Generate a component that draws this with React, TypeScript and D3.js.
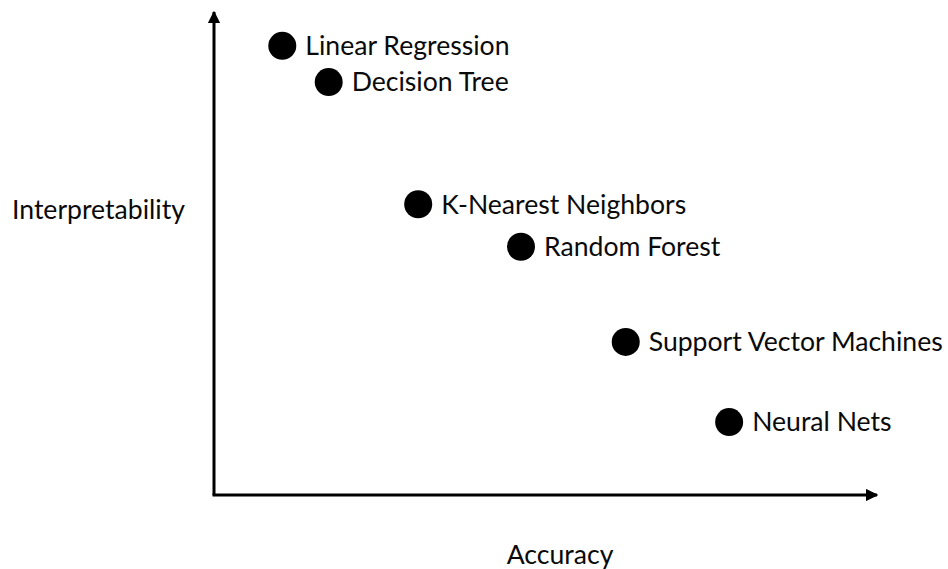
import React from "react";
import * as d3 from "d3";

const models = ["Linear Regression", "Decision Tree", "K-Nearest Neighbors", "Random Forest", "Support Vector Machines", "Neural Nets"];
const accuracy = [1.03, 1.73, 3.08, 4.63, 6.21, 7.77];
const interpretability = [9.3, 8.55, 6.02, 5.14, 3.17, 1.51];
const xAxisTitle = "Accuracy";
const yAxisTitle = "Interpretability";

const W = 948;
const H = 569;
const FONT = "Lato, 'Open Sans', sans-serif";
const FS = 26.6;

export default function App() {
  const x = d3.scaleLinear().domain([0, 10]).range([214, 877]);
  const y = d3.scaleLinear().domain([0, 10]).range([495, 12]);
  const x0 = x(0);
  const y0 = y(0);
  const xEnd = x(10);
  const yEnd = y(10);
  return (
    <svg width={W} height={H} style={{ position: "absolute", left: 0, top: 0, background: "#fff" }}>
      <defs>
        <marker id="arr" viewBox="0 0 10 10" refX="9" refY="5" markerWidth="4.2" markerHeight="4.2" orient="auto" markerUnits="strokeWidth">
          <path d="M0,0 L10,5 L0,10 Z" fill="#000" />
        </marker>
      </defs>
      <line x1={x0} y1={y0} x2={x0} y2={yEnd} stroke="#000" strokeWidth={3} markerEnd="url(#arr)" />
      <line x1={x0 - 1.5} y1={y0} x2={xEnd} y2={y0} stroke="#000" strokeWidth={3} markerEnd="url(#arr)" />
      {models.map((m, i) => (
        <g key={m}>
          <circle cx={x(accuracy[i])} cy={y(interpretability[i])} r={14} fill="#000" />
          <text x={x(accuracy[i]) + 23} y={y(interpretability[i])} dy="0.35em" fontFamily={FONT} fontSize={FS} fill="#0a0a0a">
            {m}
          </text>
        </g>
      ))}
      <text x={98.5} y={210} dy="0.35em" textAnchor="middle" fontFamily={FONT} fontSize={FS} fill="#0a0a0a">
        {yAxisTitle}
      </text>
      <text x={560} y={555} dy="0.35em" textAnchor="middle" fontFamily={FONT} fontSize={FS} fill="#0a0a0a">
        {xAxisTitle}
      </text>
    </svg>
  );
}
